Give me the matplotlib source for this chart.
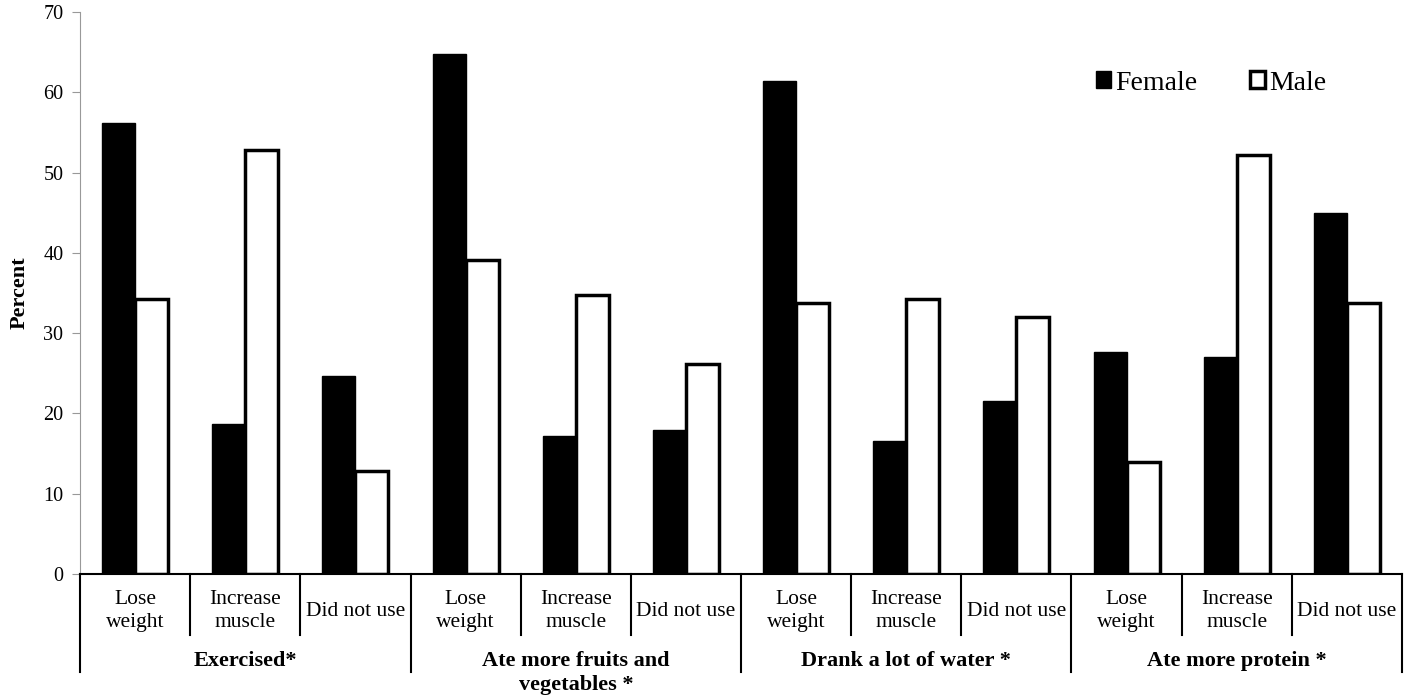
import matplotlib.pyplot as plt
import matplotlib.transforms as mtransforms
import numpy as np

plt.rcParams['font.family'] = ['Liberation Serif', 'DejaVu Serif']

# Data
groups = ['Exercised*', 'Ate more fruits and\nvegetables *', 'Drank a lot of water *', 'Ate more protein *']
subcats = ['Lose\nweight', 'Increase\nmuscle', 'Did not use']
female = [56.2, 18.7, 24.6,
          64.8, 17.2, 17.9,
          61.4, 16.6, 21.6,
          27.7, 27.0, 45.0]
male = [34.3, 52.8, 12.8,
        39.1, 34.7, 26.2,
        33.8, 34.2, 32.0,
        14.0, 52.2, 33.8]

fig = plt.figure(figsize=(14.19, 7), dpi=100)
ax = fig.add_axes([0.0564, 0.18, 0.9316, 0.803])

x = np.arange(len(female))
w = 0.3
ax.bar(x - w / 2, female, w, color='black', edgecolor='black', label='Female')
ax.bar(x + w / 2, male, w, color='white', edgecolor='black', linewidth=2.5, label='Male')

ax.set_xlim(-0.5, len(female) - 0.5)
ax.set_ylim(0, 70)
ax.set_yticks(range(0, 71, 10))
ax.tick_params(axis='y', labelsize=14.5, color='#999999', direction='out', length=6, pad=6)
ax.tick_params(axis='x', bottom=False, labelbottom=False)
ax.set_ylabel('Percent', fontsize=16, fontweight='bold', labelpad=10)

for s in ['top', 'right']:
    ax.spines[s].set_visible(False)
ax.spines['left'].set_color('#999999')
ax.spines['bottom'].set_color('black')
ax.spines['bottom'].set_linewidth(1.5)

# category axis below the plot
trans = mtransforms.blended_transform_factory(ax.transData, ax.transAxes)
for i in range(len(female) + 1):
    b = i - 0.5
    low = -0.174 if i % 3 == 0 else -0.1085
    ax.plot([b, b], [0, low], color='black', lw=1.5, transform=trans, clip_on=False)
for i in range(len(female)):
    ax.text(i, -0.066, subcats[i % 3], transform=trans, ha='center', va='center',
            fontsize=15.5, linespacing=1.3)
for g, name in enumerate(groups):
    ax.text(3 * g + 1, -0.137, name, transform=trans, ha='center', va='top',
            fontsize=16, fontweight='bold', linespacing=1.25)

leg = ax.legend(loc='upper right', bbox_to_anchor=(0.962, 0.94), ncol=2, frameon=False,
                fontsize=20, handlelength=0.55, handleheight=0.55, handletextpad=0.15,
                columnspacing=1.9)

fig.savefig('out.png', dpi=100)
